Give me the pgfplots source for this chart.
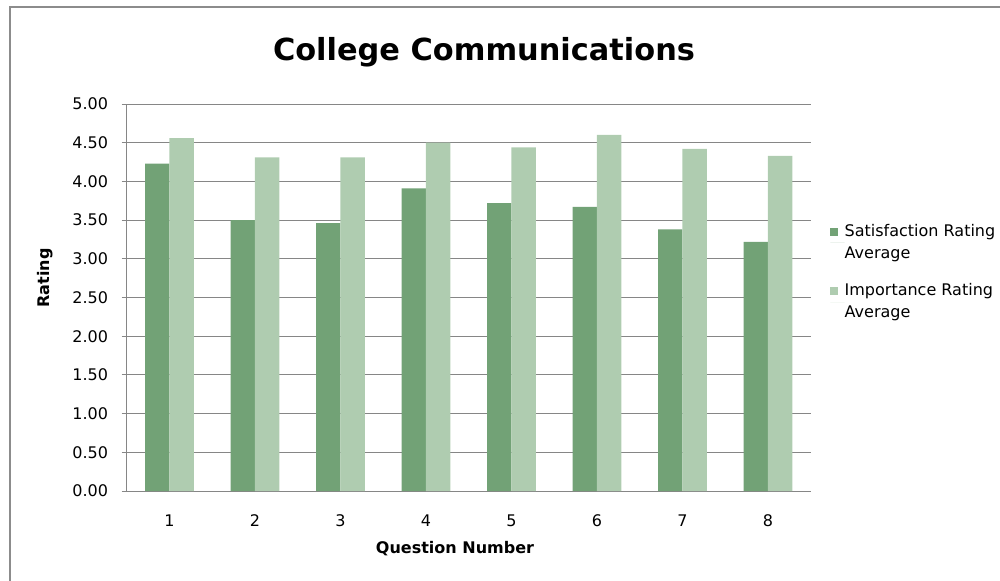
\documentclass[border=0pt]{standalone}
\usepackage{pgfplots}
\pgfplotsset{compat=1.18}
\usepackage{fontspec}
\setmainfont{DejaVu Sans}

\definecolor{satgreen}{RGB}{114,162,118}
\definecolor{impgreen}{RGB}{175,204,176}
\definecolor{gridgray}{RGB}{134,134,134}
\definecolor{framegray}{RGB}{140,140,140}

% Question number, satisfaction average, importance average
\pgfplotstableread{
q   sat   imp
1   4.23  4.56
2   3.50  4.31
3   3.46  4.31
4   3.91  4.50
5   3.72  4.44
6   3.67  4.60
7   3.38  4.42
8   3.22  4.33
}\ratings

\begin{document}
\begin{tikzpicture}
\useasboundingbox (0pt,0pt) rectangle (500pt,290pt);
% chart frame
\draw[framegray, line width=0.6pt] (5pt,-2pt) -- (5pt,286.5pt) -- (502pt,286.5pt);
\begin{axis}[
  at={(63.35pt,44.5pt)}, anchor=south west,
  scale only axis, width=342pt, height=193.5pt,
  ybar=0pt, bar width=12.2pt,
  xmin=0.5, xmax=8.5, ymin=0, ymax=5,
  axis x line*=bottom, axis y line*=left,
  axis line style={gridgray, line width=0.5pt},
  xtick={1,...,8}, xticklabels={1,2,3,4,5,6,7,8},
  minor xtick={0.5,1.5,...,8.5},
  ytick={0,0.5,...,5},
  tick align=outside,
  major tick length=2.6pt, minor tick length=2.6pt,
  xtick style={draw=none},
  minor x tick style={gridgray, line width=0.5pt},
  ytick style={gridgray, line width=0.5pt},
  ymajorgrids, major grid style={gridgray, line width=0.5pt},
  /pgf/number format/assume math mode=true,
  yticklabel style={/pgf/number format/fixed, /pgf/number format/fixed zerofill, /pgf/number format/precision=2},
  ticklabel style={font=\fontsize{8}{9.6}\selectfont, text=black},
  yticklabel style={anchor=east, inner sep=0pt, xshift=-6.5pt},
  xticklabel style={anchor=center, inner sep=0pt, yshift=-12.25pt},
  title={College Communications},
  title style={at={(axis description cs:0.5224,1.1395)}, anchor=center, yshift=-7pt, font=\fontsize{15.2}{18}\bfseries\selectfont},
  xlabel={Question Number},
  xlabel style={at={(axis description cs:0.48,-0.1499)}, anchor=center, font=\fontsize{8}{9.6}\bfseries\selectfont},
  ylabel={Rating},
  ylabel style={at={(axis description cs:-0.1194,0.5504)}, anchor=center, font=\fontsize{8}{9.6}\bfseries\selectfont},
  legend style={at={(axis description cs:1.0282,0.69)}, anchor=north west, draw=none, fill=none,
    font=\fontsize{8}{11}\selectfont, inner sep=0pt, row sep=11pt,
    cells={anchor=west},
    nodes={align=left, inner sep=0pt}},
  legend image code/.code={%
    \fill[#1] (0pt,3.58pt) rectangle (3.85pt,7.42pt);
    \path (0pt,0pt) -- (7.15pt,0pt);},
]
\addplot[fill=satgreen, draw=none] table[x=q, y=sat] {\ratings};
\addplot[fill=impgreen, draw=none] table[x=q, y=imp] {\ratings};
\legend{{Satisfaction Rating\\Average},{Importance Rating\\Average}}
\end{axis}
\end{tikzpicture}
\end{document}
